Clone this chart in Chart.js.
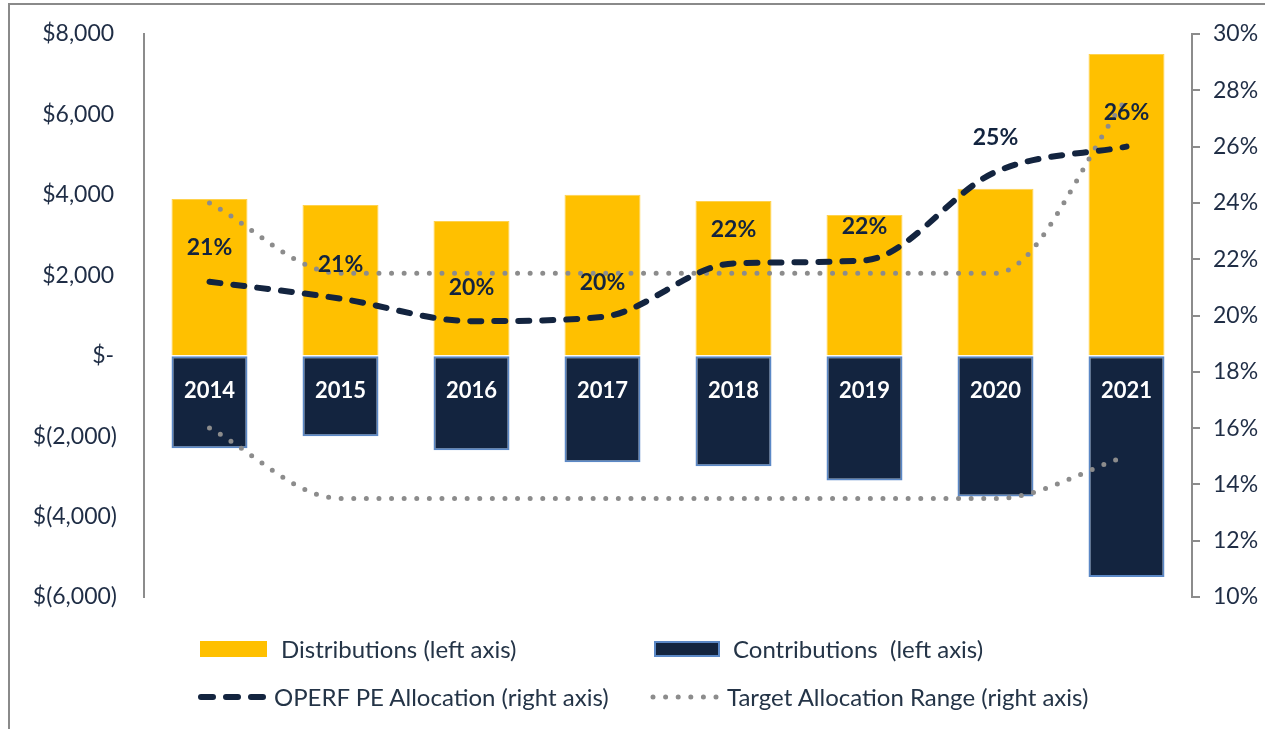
<!DOCTYPE html>
<html><head><meta charset="utf-8">
<script src="https://cdn.jsdelivr.net/npm/chart.js@4.4.1/dist/chart.umd.min.js"></script>
<style>
html,body{margin:0;padding:0;background:#fff;}
#wrap{position:relative;width:1265px;height:729px;overflow:hidden;background:#fff;}
#frame{position:absolute;left:8px;top:3px;width:1300px;height:800px;border-left:2px solid #8a8a8a;border-top:2px solid #8a8a8a;}
canvas{position:absolute;left:0;top:0;}
.lg{position:absolute;font-family:Lato,sans-serif;font-size:24px;color:#243447;white-space:pre;line-height:26px;}
.sw{position:absolute;box-sizing:border-box;}
</style></head>
<body>
<div id="wrap">
<div id="frame"></div>
<canvas id="c" width="1265" height="729"></canvas>
<div id="legend"></div>
</div>
<script>
// ---- data ----
const categories = ['2014','2015','2016','2017','2018','2019','2020','2021'];
const distributions = [3900, 3750, 3350, 4000, 3850, 3500, 4150, 7500];
const contributions = [-2300, -2000, -2350, -2650, -2750, -3100, -3500, -5500];
const peAllocation = [21.2, 20.6, 19.8, 19.95, 21.85, 21.96, 25.1, 26.0];
const targetUpper = [24.0, 21.5, 21.5, 21.5, 21.5, 21.5, 21.5, 27.7];
const targetLower = [16.0, 13.5, 13.5, 13.5, 13.5, 13.5, 13.5, 15.0];
const leftTickValues = [-6000, -4000, -2000, 0, 2000, 4000, 6000, 8000];
const rightTickValues = [10, 12, 14, 16, 18, 20, 22, 24, 26, 28, 30];
const legendLabels = ['Distributions (left axis)', 'Contributions  (left axis)', 'OPERF PE Allocation (right axis)', 'Target Allocation Range (right axis)'];

const GOLD = '#FFC000', NAVY = '#13243F', NAVY_EDGE = '#5B88C6', GRAY = '#8C8C8C', TXT = '#1F2D45';
const FONT = 'Lato';

function fmtLeft(v){
  if (v === 0) return '$-\u2009';
  const s = Math.abs(v).toLocaleString('en-US');
  return v < 0 ? '$(' + s + ')' : '$' + s + '\u2009';
}

const pctLabels = {
  id: 'pctLabels',
  afterDatasetsDraw(chart){
    const meta = chart.getDatasetMeta(0);
    const ctx = chart.ctx;
    ctx.save();
    ctx.font = 'bold 23px ' + FONT;
    ctx.fillStyle = NAVY;
    ctx.textAlign = 'center';
    ctx.textBaseline = 'middle';
    meta.data.forEach((pt, i) => {
      ctx.fillText(Math.round(peAllocation[i]) + '%', pt.x, pt.y - 34);
    });
    ctx.restore();
  }
};

new Chart(document.getElementById('c'), {
  type: 'bar',
  data: {
    labels: categories,
    datasets: [
      { type:'line', label: legendLabels[2], data: peAllocation, yAxisID:'y1', order:0,
        borderColor: NAVY, borderWidth: 6, borderDash:[11,13], borderCapStyle:'round',
        pointRadius:0, cubicInterpolationMode:'monotone', fill:false },
      { type:'line', label: legendLabels[3], data: targetUpper, yAxisID:'y1', order:1,
        borderColor: GRAY, borderWidth: 5, borderDash:[0,12.6], borderCapStyle:'round',
        pointRadius:0, cubicInterpolationMode:'monotone', fill:false },
      { type:'line', label: legendLabels[3] + ' (low)', data: targetLower, yAxisID:'y1', order:1,
        borderColor: GRAY, borderWidth: 5, borderDash:[0,12.6], borderCapStyle:'round',
        pointRadius:0, cubicInterpolationMode:'monotone', fill:false },
      { label: legendLabels[0], data: distributions, yAxisID:'y', order:3, grouped:false,
        backgroundColor: GOLD, borderColor:'#FFD24D', borderWidth:1,
        barPercentage:0.58, categoryPercentage:1 },
      { label: legendLabels[1], data: contributions, yAxisID:'y', order:3, grouped:false,
        backgroundColor: NAVY, borderColor: NAVY_EDGE, borderWidth:2, borderSkipped:false,
        barPercentage:0.58, categoryPercentage:1 }
    ]
  },
  options: {
    responsive:false, animation:false,
    layout:{ padding:{ top:34, bottom:132, left:0, right:0 } },
    plugins:{ legend:{display:false}, tooltip:{enabled:false} },
    scales:{
      x:{ type:'category', position:{y:0}, offset:true,
          grid:{display:false, drawTicks:false}, border:{display:false},
          ticks:{ z:1, color:'#FFFFFF', padding:22, font:{family:FONT, size:22, weight:'bold'} } },
      y:{ position:'left', min:-6000, max:8000,
          afterBuildTicks(s){ s.ticks = leftTickValues.map(v => ({value:v})); },
          afterFit(s){ s.width = 144; },
          grid:{display:true, drawOnChartArea:false, drawTicks:true, tickLength:27, color:'rgba(0,0,0,0)'},
          border:{display:true, color:GRAY, width:2},
          ticks:{ padding:0, color:TXT, font:{family:FONT, size:23}, callback:v => fmtLeft(v) } },
      y1:{ position:'right', min:10, max:30,
          afterBuildTicks(s){ s.ticks = rightTickValues.map(v => ({value:v})); },
          afterFit(s){ s.width = 73; },
          grid:{display:true, drawOnChartArea:false, drawTicks:true, tickLength:8, color:GRAY, lineWidth:2},
          border:{display:true, color:GRAY, width:2},
          ticks:{ padding:13, color:TXT, font:{family:FONT, size:23}, callback:v => v + '%' } }
    }
  },
  plugins:[pctLabels]
});

// ---- legend (HTML) ----
const lg = document.getElementById('legend');
function add(html){ lg.insertAdjacentHTML('beforeend', html); }
add(`<div class="sw" style="left:200px;top:641px;width:67px;height:16px;background:${GOLD}"></div>`);
add(`<div class="lg" style="left:281px;top:636px">${legendLabels[0]}</div>`);
add(`<div class="sw" style="left:654px;top:641px;width:66px;height:16px;background:${NAVY};border:2px solid ${NAVY_EDGE}"></div>`);
add(`<div class="lg" style="left:733px;top:636px">${legendLabels[1]}</div>`);
add(`<svg class="sw" style="left:196px;top:690px" width="78" height="14"><line x1="5" y1="7" x2="72" y2="7" stroke="${NAVY}" stroke-width="6" stroke-dasharray="12 13" stroke-linecap="round"/></svg>`);
add(`<div class="lg" style="left:274px;top:684px">${legendLabels[2]}</div>`);
add(`<svg class="sw" style="left:648px;top:690px" width="76" height="14"><line x1="5" y1="7" x2="72" y2="7" stroke="${GRAY}" stroke-width="5" stroke-dasharray="0 12.6" stroke-linecap="round"/></svg>`);
add(`<div class="lg" style="left:727px;top:684px">${legendLabels[3]}</div>`);
</script>
</body></html>
